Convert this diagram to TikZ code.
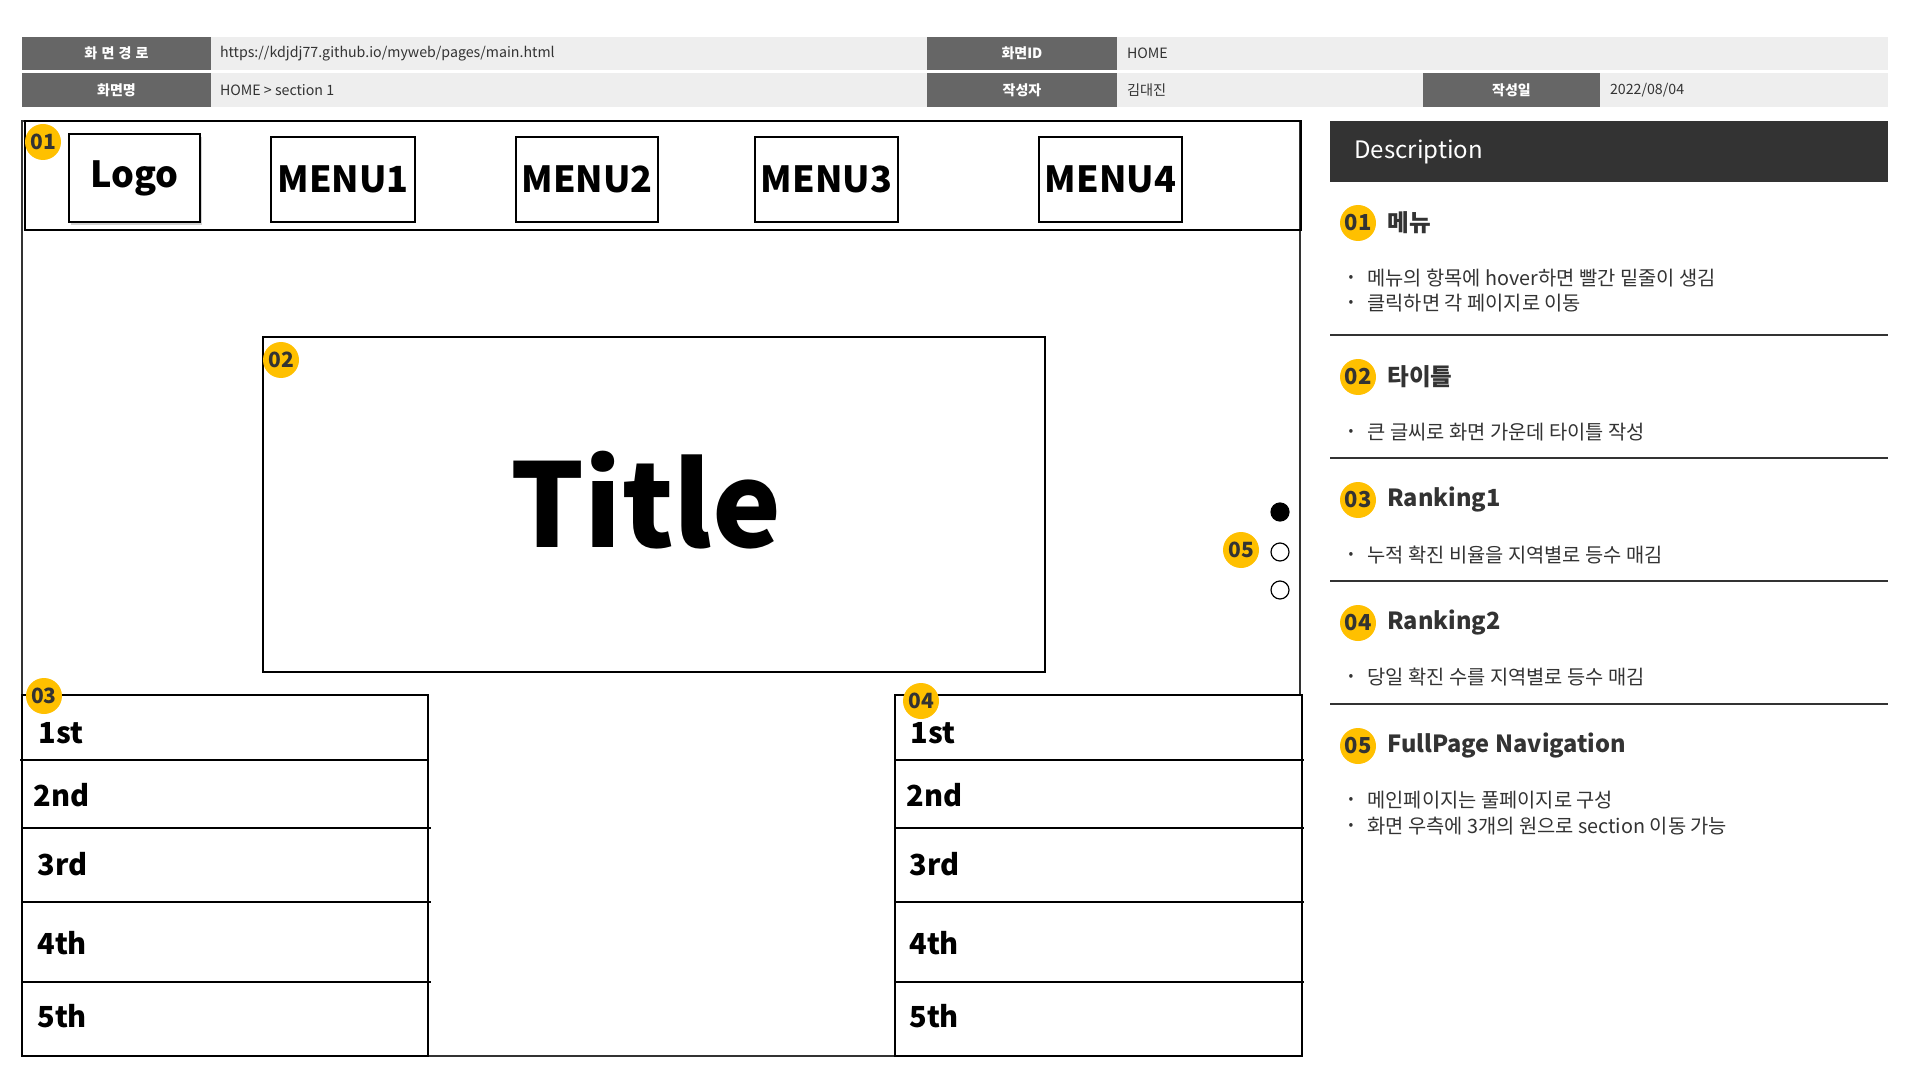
\documentclass[tikz,border=0pt]{standalone}
\usepackage{fontspec}
\setmainfont{Noto Sans CJK KR}
\newfontfamily\spacedkr[LetterSpace=30]{Noto Sans CJK KR}
\usetikzlibrary{shadows}
\definecolor{lbl}{HTML}{666666}
\definecolor{val}{HTML}{EEEEEE}
\definecolor{badgey}{HTML}{FFC000}
\definecolor{ink}{HTML}{333333}
\begin{document}
\begin{tikzpicture}[x=0.5pt,y=-0.5pt,
  lblcell/.style={fill=lbl, inner sep=0, text=white, font=\bfseries\fontsize{7}{8}\selectfont},
  valcell/.style={fill=val, inner sep=0},
  hdrval/.style={anchor=west, inner sep=0, text=ink, font=\fontsize{7.1}{8}\selectfont},
  wbox/.style={draw=black, line width=0.7pt, inner sep=0},
  wline/.style={draw=black, line width=0.7pt},
  menutxt/.style={font=\bfseries\fontsize{18}{21}\selectfont, text=black},
  ranktxt/.style={anchor=west, inner sep=0, font=\bfseries\fontsize{14.5}{17}\selectfont, text=black},
  badge/.style={circle, fill=badgey, inner sep=0, minimum size=18pt, text=ink, font=\bfseries\fontsize{10.5}{12}\selectfont},
  dbadge/.style={badge, font=\bfseries\fontsize{11}{12}\selectfont},
  dtitle/.style={anchor=west, inner sep=0, text=ink, font=\bfseries\fontsize{11.8}{14}\selectfont},
  dbullet/.style={inner sep=0, text=ink, font=\fontsize{7}{8}\selectfont},
  dtext/.style={anchor=west, inner sep=0, text=ink, font=\fontsize{9.9}{11}\selectfont},
  sepline/.style={draw=ink, line width=0.7pt},
  navdot/.style={circle, draw=black, line width=0.6pt, minimum size=9pt, inner sep=0}
]
\fill[white] (0,0) rectangle (1920,1080);
\useasboundingbox (0,0) rectangle (1920,1080);

% ---------- header table ----------
\node[lblcell, minimum width=94.5pt, minimum height=16.5pt] (h1) at (116.5,53.5) {\spacedkr\bfseries 화면경로};
\node[valcell, minimum width=358pt, minimum height=16.5pt] (v1) at (569,53.5) {};
\node[hdrval] (v1t) at ([xshift=4.5pt]v1.west) {https://kdjdj77.github.io/myweb/pages/main.html};
\node[lblcell, minimum width=95pt, minimum height=16.5pt] (h2) at (1022,53.5) {화면ID};
\node[valcell, minimum width=385.5pt, minimum height=16.5pt] (v2) at (1502.5,53.5) {};
\node[hdrval] (v2t) at ([xshift=5pt]v2.west) {HOME};

\node[lblcell, minimum width=94.5pt, minimum height=17pt] (h3) at (116.5,90) {화면명};
\node[valcell, minimum width=358pt, minimum height=17pt] (v3) at (569,90) {};
\node[hdrval] (v3t) at ([xshift=4.5pt]v3.west) {HOME > section 1};
\node[lblcell, minimum width=95pt, minimum height=17pt] (h4) at (1022,90) {작성자};
\node[valcell, minimum width=153pt, minimum height=17pt] (v4) at (1270,90) {};
\node[hdrval] (v4t) at ([xshift=5pt]v4.west) {김대진};
\node[lblcell, minimum width=88.5pt, minimum height=17pt] (h5) at (1511.5,90) {작성일};
\node[valcell, minimum width=144pt, minimum height=17pt] (v5) at (1744,90) {};
\node[hdrval] (v5t) at ([xshift=5pt]v5.west) {2022/08/04};

% ---------- wireframe ----------
\node[draw=ink, line width=1.2pt, inner sep=0, minimum width=639pt, minimum height=467.5pt] (frame) at (661,588.5) {};
\node[wbox, minimum width=638pt, minimum height=54.5pt] (nav) at (663,175.5) {};
\node[wbox, fill=white, drop shadow={opacity=0.35, shadow xshift=1pt, shadow yshift=-1.6pt}, minimum width=65.5pt, minimum height=44pt, menutxt] (logo) at (134.5,178) {Logo};
\node[wbox, minimum width=72pt, minimum height=42.5pt, menutxt] (m1) at (343,179.5) {MENU1};
\node[wbox, minimum width=71pt, minimum height=42.5pt, menutxt] (m2) at (587,179.5) {MENU2};
\node[wbox, minimum width=71.5pt, minimum height=42.5pt, menutxt] (m3) at (826.5,179.5) {MENU3};
\node[wbox, minimum width=71.5pt, minimum height=42.5pt, menutxt] (m4) at (1110.5,179.5) {MENU4};

\node[wbox, minimum width=391pt, minimum height=167.5pt] (titlebox) at (654,504.5) {};
\node[font=\bfseries\fontsize{58}{60}\selectfont, text=black, inner sep=0] (titletxt) at (646,500) {Title};

% nav dots
\node[navdot, fill=black] (d1) at (1280,512) {};
\node[navdot, fill=white] (d2) at (1280,552) {};
\node[navdot, fill=white] (d3) at (1280,590) {};

% ranking 1
\node[wbox, fill=white, minimum width=203pt, minimum height=180.5pt] (rk1) at (225,875.5) {};
\draw[wline] (20,760) -- (428,760);
\draw[wline] (22,828) -- (431,828);
\draw[wline] (22,902) -- (431,902);
\draw[wline] (22,982) -- (431,982);
\node[ranktxt] (r11) at (38,733) {1st};
\node[ranktxt] (r12) at (33,795) {2nd};
\node[ranktxt] (r13) at (37,864) {3rd};
\node[ranktxt] (r14) at (37,943) {4th};
\node[ranktxt] (r15) at (37,1016) {5th};

% ranking 2
\node[wbox, fill=white, minimum width=203.5pt, minimum height=180.5pt] (rk2) at (1098.5,875.5) {};
\draw[wline] (895,760) -- (1304,760);
\draw[wline] (895,828) -- (1304,828);
\draw[wline] (895,902) -- (1304,902);
\draw[wline] (895,982) -- (1304,982);
\node[ranktxt] (r21) at (910,733) {1st};
\node[ranktxt] (r22) at (906,795) {2nd};
\node[ranktxt] (r23) at (909,864) {3rd};
\node[ranktxt] (r24) at (909,943) {4th};
\node[ranktxt] (r25) at (909,1016) {5th};

% badges on wireframe
\node[badge] (b1) at (43,142) {01};
\node[badge] (b2) at (281,360) {02};
\node[badge] (b3) at (44,696) {03};
\node[badge] (b4) at (921,701) {04};
\node[badge] (b5) at (1241,550) {05};

% ---------- description panel ----------
\node[fill=ink, inner sep=0, minimum width=279pt, minimum height=30.5pt] (deschead) at (1609,151.5) {};
\node[anchor=west, inner sep=0, text=white, font=\fontsize{12}{14}\selectfont] (desctxt) at (1354,152) {Description};

\node[dbadge] (db1) at (1358,223) {01};
\node[dtitle] (dt1) at (1387,223) {메뉴};
\node[dbullet] (bl11) at (1351,278) {•};
\node[dtext] (tx11) at (1367,278) {메뉴의 항목에 hover하면 빨간 밑줄이 생김};
\node[dbullet] (bl12) at (1351,303) {•};
\node[dtext] (tx12) at (1367,303) {클릭하면 각 페이지로 이동};
\draw[sepline] (1330,335) -- (1888,335);

\node[dbadge] (db2) at (1358,377) {02};
\node[dtitle] (dt2) at (1387,377) {타이틀};
\node[dbullet] (bl21) at (1351,432) {•};
\node[dtext] (tx21) at (1367,432) {큰 글씨로 화면 가운데 타이틀 작성};
\draw[sepline] (1330,458) -- (1888,458);

\node[dbadge] (db3) at (1358,500) {03};
\node[dtitle] (dt3) at (1387,500) {Ranking1};
\node[dbullet] (bl31) at (1351,555) {•};
\node[dtext] (tx31) at (1367,555) {누적 확진 비율을 지역별로 등수 매김};
\draw[sepline] (1330,581) -- (1888,581);

\node[dbadge] (db4) at (1358,623) {04};
\node[dtitle] (dt4) at (1387,623) {Ranking2};
\node[dbullet] (bl41) at (1351,677) {•};
\node[dtext] (tx41) at (1367,677) {당일 확진 수를 지역별로 등수 매김};
\draw[sepline] (1330,704) -- (1888,704);

\node[dbadge] (db5) at (1358,746) {05};
\node[dtitle] (dt5) at (1387,746) {FullPage Navigation};
\node[dbullet] (bl51) at (1351,800) {•};
\node[dtext] (tx51) at (1367,800) {메인페이지는 풀페이지로 구성};
\node[dbullet] (bl52) at (1351,826) {•};
\node[dtext] (tx52) at (1367,826) {화면 우측에 3개의 원으로 section 이동 가능};
\end{tikzpicture}
\end{document}
